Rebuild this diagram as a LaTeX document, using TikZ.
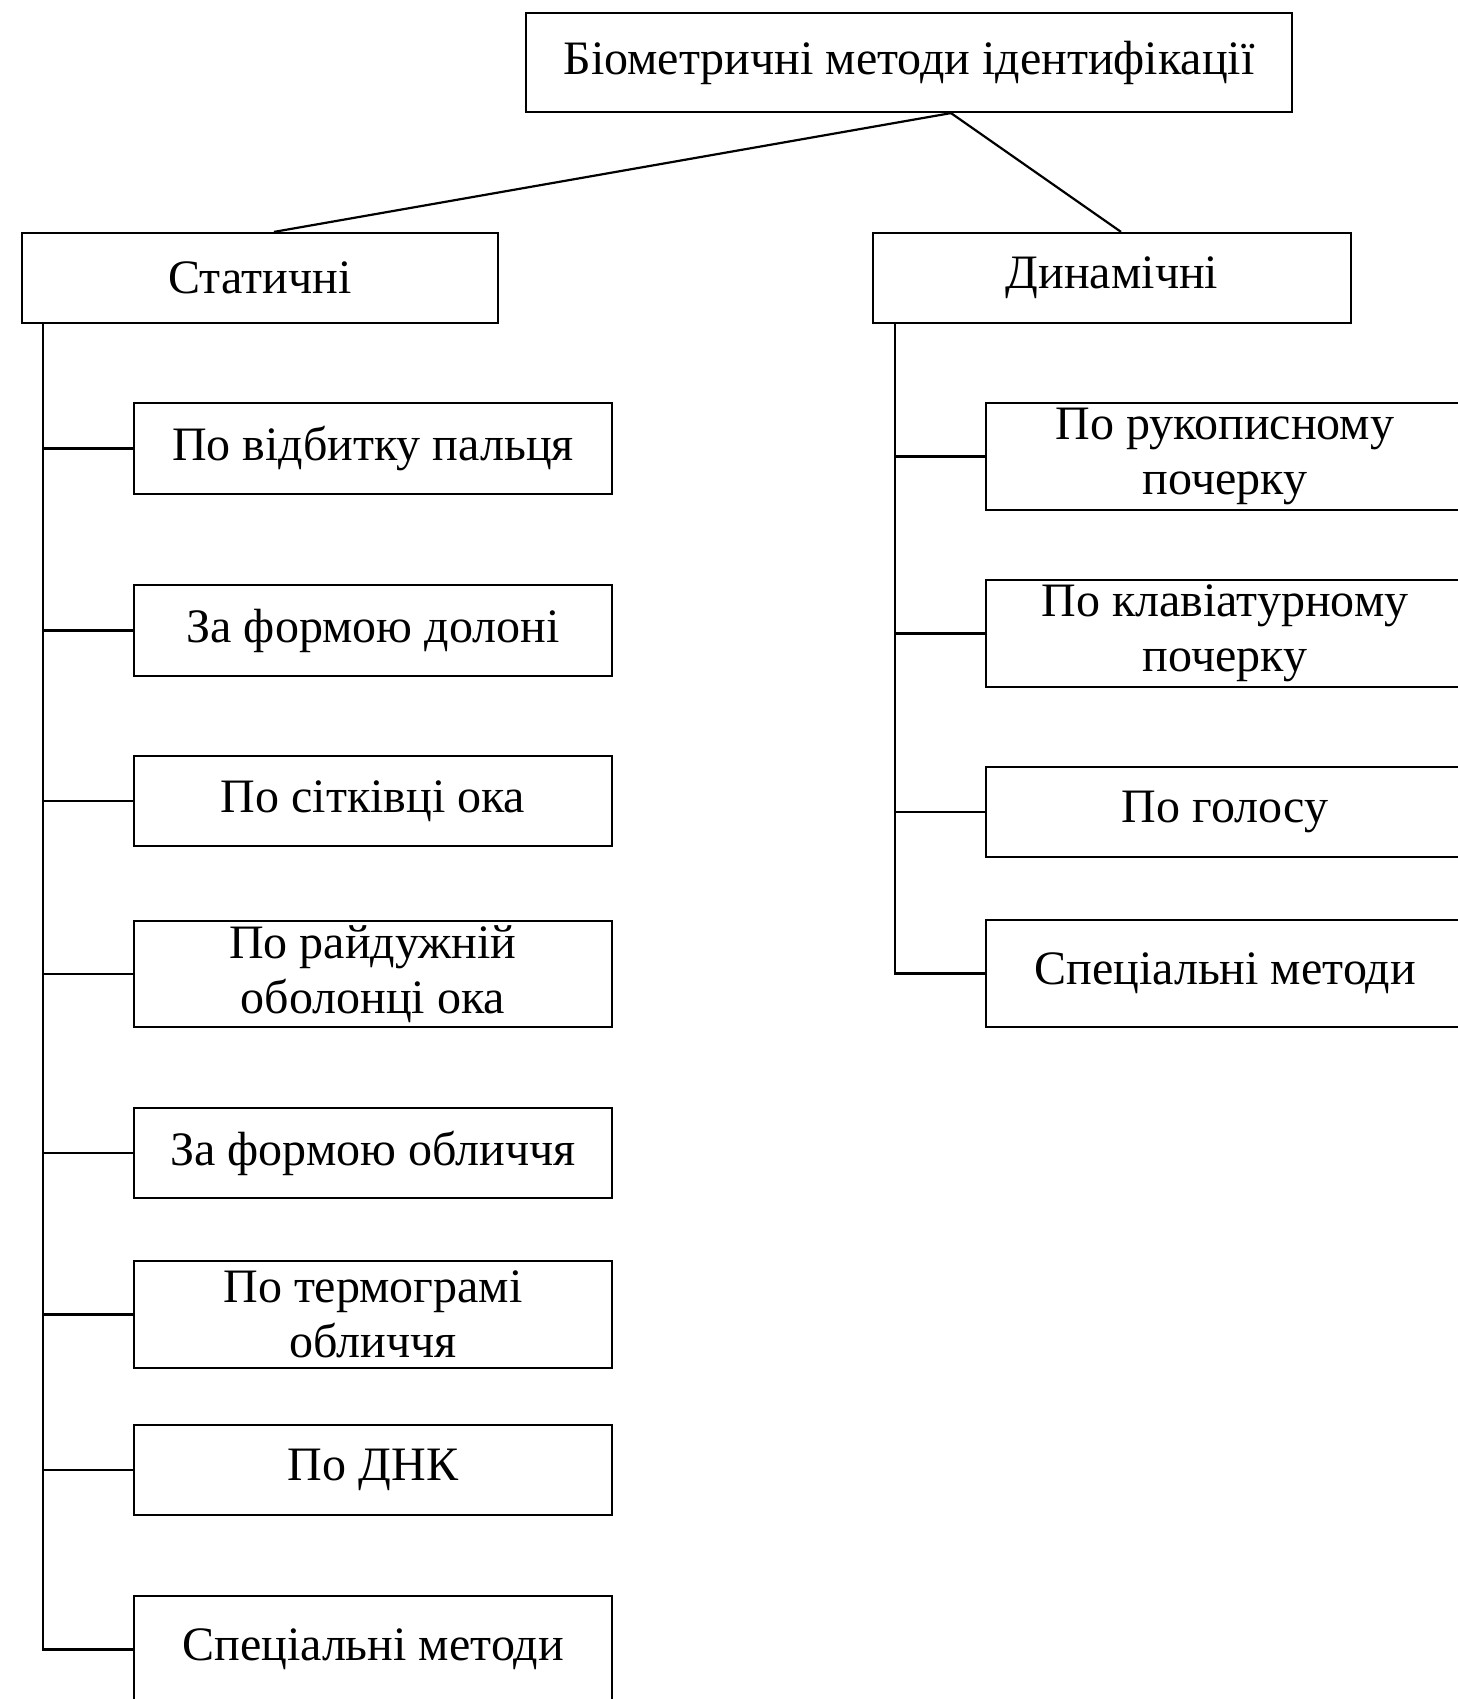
\documentclass[tikz,border=0pt]{standalone}
\usepackage{fontspec}
\setmainfont{Liberation Serif}
\begin{document}
\begin{tikzpicture}[x=1pt,y=-1pt,
  box/.style={draw=black, line width=2.2pt, rectangle, inner sep=0pt, align=center,
    font=\fontsize{48}{55}\selectfont, minimum height=#1},
  box/.default=90pt,
  conn/.style={draw=black, line width=2.2pt}]
\useasboundingbox (0,0) rectangle (1458,1699);
\clip (0,0) rectangle (1458,1699);
\fill[white] (0,0) rectangle (1458,1699);
% root and groups
\node[box=99pt, minimum width=766pt] (root) at (909,62.5) {Біометричні методи ідентифікації};
\node[box, minimum width=476pt] (stat) at (260,278) {Статичні};
\node[box, minimum width=478pt] (dyn) at (1112,278) {Динамічні};
% static children
\node[box=91pt, minimum width=478pt] (s1) at (373,448.5) {По відбитку пальця};
\node[box=91pt, minimum width=478pt] (s2) at (373,630.5) {За формою долоні};
\node[box=90pt, minimum width=478pt] (s3) at (373,801) {По сітківці ока};
\node[box=106pt, minimum width=478pt] (s4) at (373,974) {По райдужній\\оболонці ока};
\node[box=90pt, minimum width=478pt] (s5) at (373,1153) {За формою обличчя};
\node[box=107pt, minimum width=478pt] (s6) at (373,1314.5) {По термограмі\\обличчя};
\node[box=90pt, minimum width=478pt] (s7) at (373,1470) {По ДНК};
\node[box=107pt, minimum width=478pt] (s8) at (373,1649.5) {Спеціальні методи};
% dynamic children
\node[box=107pt, minimum width=478pt] (d1) at (1225,456.5) {По рукописному\\почерку};
\node[box=107pt, minimum width=478pt] (d2) at (1225,633.5) {По клавіатурному\\почерку};
\node[box=90pt, minimum width=478pt] (d3) at (1225,812) {По голосу};
\node[box=107pt, minimum width=478pt] (d4) at (1225,973.5) {Спеціальні методи};
% root connectors
\draw[conn] ([xshift=42pt]root.south) -- ([xshift=14pt]stat.north);
\draw[conn] ([xshift=42pt]root.south) -- ([xshift=9pt]dyn.north);
% static trunk
\coordinate (tl) at ([xshift=22pt]stat.south west);
\draw[conn] (tl) |- (s8.west);
\foreach \n in {s1,s2,s3,s4,s5,s6,s7}
  \draw[conn] (\n.west) -- (\n.west -| tl);
% dynamic trunk
\coordinate (tr) at ([xshift=23pt]dyn.south west);
\draw[conn] (tr) |- (d4.west);
\foreach \n in {d1,d2,d3}
  \draw[conn] (\n.west) -- (\n.west -| tr);
\end{tikzpicture}
\end{document}
